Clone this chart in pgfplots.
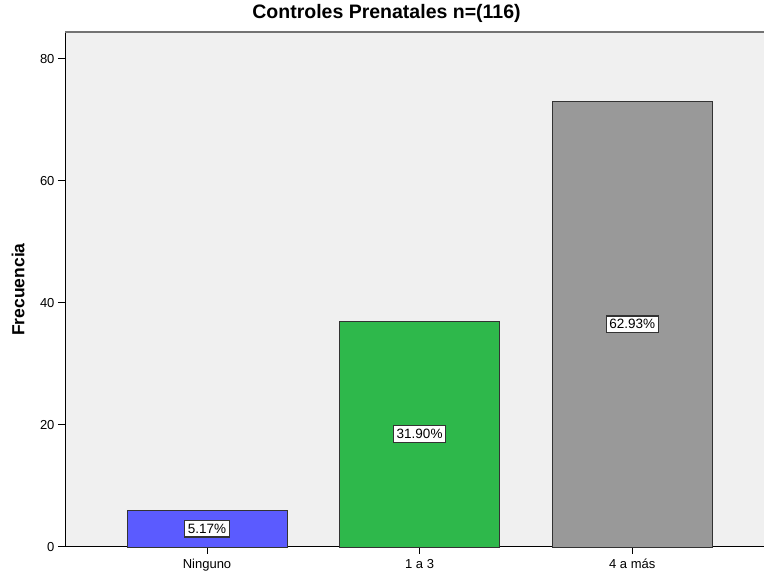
\documentclass[border=0pt]{standalone}
\usepackage{fontspec}
\setmainfont{Liberation Sans}
\usepackage{pgfplots}
\pgfplotsset{compat=1.18}
\definecolor{bgc}{HTML}{F0F0F0}
\definecolor{cblue}{HTML}{5B5BFF}
\definecolor{cgreen}{HTML}{2EB84B}
\definecolor{cgray}{HTML}{999999}
\definecolor{edge}{HTML}{333333}
\begin{document}
\begin{tikzpicture}
\begin{axis}[
  scale only axis, width=702pt, height=515pt,
  xmin=-0.668, xmax=2.634, ymin=0, ymax=84.4,
  axis x line*=bottom, axis y line*=left,
  axis line style={black, line width=1pt, -},
  axis background/.style={fill=bgc},
  xtick={0,1,2}, xticklabels={Ninguno, 1 a 3, 4 a más},
  ytick={0,20,40,60,80},
  tick align=outside, major tick length=7pt,
  tick style={black, line width=1pt},
  ticklabel style={font=\fontsize{13}{15}\selectfont},
  xticklabel style={text height=10.5pt, text depth=3pt},
  /pgf/number format/assume math mode=true,
  ylabel={Frecuencia},
  ylabel style={at={(axis description cs:-0.0669,0.5)}, anchor=center, font=\fontsize{17.5}{19}\bfseries},
  title={Controles Prenatales n=(116)},
  title style={at={(axis description cs:0.458,1.0136)}, anchor=base, font=\fontsize{19.5}{21}\bfseries},
  clip=false,
]
\coordinate (sw) at (rel axis cs:0,0);
\coordinate (ne) at (rel axis cs:1,1);
\addplot[ybar, bar width=160pt, bar shift=0pt, fill=cblue, draw=edge, line width=0.9pt] coordinates {(0,6)};
\addplot[ybar, bar width=160pt, bar shift=0pt, fill=cgreen, draw=edge, line width=0.9pt] coordinates {(1,37)};
\addplot[ybar, bar width=160pt, bar shift=0pt, fill=cgray, draw=edge, line width=0.9pt] coordinates {(2,73)};
\addplot[draw=none, mark=none, nodes near coords, point meta=explicit symbolic,
  nodes near coords style={anchor=center, fill=white, draw=edge, line width=1.2pt, inner xsep=3pt, inner ysep=3.5pt, font=\fontsize{13.5}{15}\selectfont}]
  coordinates {(0,3)[5.17\%] (1,18.5)[31.90\%] (2,36.5)[62.93\%]};
\draw[black!55, line width=1.5pt] (rel axis cs:0,1) -- (rel axis cs:1,1);
\end{axis}
\pgfresetboundingbox
\path ([shift={(-65pt,-26pt)}]sw) rectangle ([shift={(-3pt,32pt)}]ne);
\end{tikzpicture}
\end{document}
